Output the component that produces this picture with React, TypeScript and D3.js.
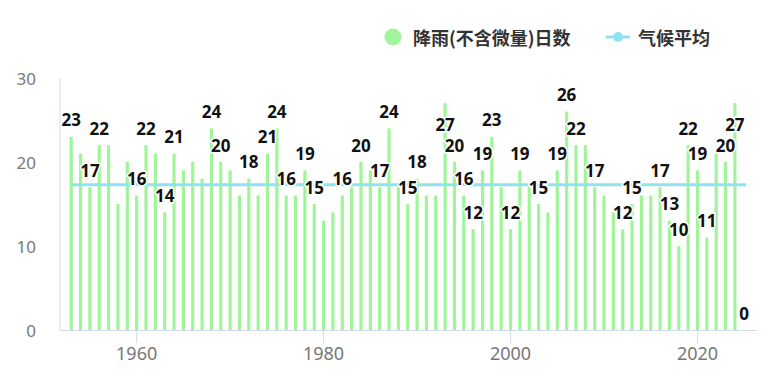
import { useEffect, useRef } from "react";
import * as d3 from "d3";

const W = 774;
const H = 387;

const years = d3.range(1953, 2026);
const rainDays = [
  23, 21, 17, 22, 22, 15, 20, 16, 22, 21, 14, 21, 19, 20, 18, 24, 20, 19, 16, 18,
  16, 21, 24, 16, 16, 19, 15, 13, 14, 16, 17, 20, 19, 17, 24, 17, 15, 18, 16, 16,
  27, 20, 16, 12, 19, 23, 17, 12, 19, 17, 15, 14, 19, 26, 22, 22, 17, 16, 14, 12,
  15, 16, 16, 17, 13, 10, 22, 19, 11, 21, 20, 27, 0,
];
// years whose value label survives the overlap hiding in the original
const labelYears = [
  1953, 1955, 1956, 1960, 1961, 1963, 1964, 1968, 1969, 1972, 1974, 1975, 1976,
  1978, 1979, 1982, 1984, 1986, 1987, 1989, 1990, 1993, 1994, 1995, 1996, 1997,
  1998, 2000, 2001, 2003, 2005, 2006, 2007, 2009, 2012, 2013, 2016, 2017, 2018,
  2019, 2020, 2021, 2023, 2024, 2025,
];
const climateMean = 17.3;
const yTicks = [0, 10, 20, 30];
const xTicks = [1960, 1980, 2000, 2020];
const legendNames = ["降雨(不含微量)日数", "气候平均"];

const BAR = "#a0f59a";
const MEAN = "#8fe3ee";
const AXIS = "#d3d9ee";

export default function App() {
  const ref = useRef<SVGSVGElement>(null);

  useEffect(() => {
    if (!ref.current) return;
    const svg = d3.select(ref.current);
    svg.selectAll("*").remove();

    const x = d3.scaleLinear().domain([1951.8, 2026.4]).range([60, 757.3]);
    const y = d3.scaleLinear().domain([0, 30]).range([330, 78]);

    // axes
    svg.append("line")
      .attr("x1", 60).attr("x2", 60).attr("y1", y(30)).attr("y2", y(0))
      .attr("stroke", AXIS).attr("stroke-width", 1);
    svg.append("line")
      .attr("x1", 60).attr("x2", x.range()[1]).attr("y1", y(0) + 0.5).attr("y2", y(0) + 0.5)
      .attr("stroke", AXIS).attr("stroke-width", 1);

    svg.append("g")
      .selectAll("line")
      .data(xTicks)
      .join("line")
      .attr("x1", (d) => x(d)).attr("x2", (d) => x(d))
      .attr("y1", y(0)).attr("y2", y(0) + 13)
      .attr("stroke", AXIS);

    svg.append("g")
      .selectAll("text")
      .data(xTicks)
      .join("text")
      .attr("x", (d) => x(d))
      .attr("y", 353)
      .attr("text-anchor", "middle")
      .attr("dominant-baseline", "central")
      .attr("fill", "#777")
      .attr("font-family", "'Noto Sans', sans-serif")
      .attr("font-size", 18)
      .text((d) => d);

    svg.append("g")
      .selectAll("text")
      .data(yTicks)
      .join("text")
      .attr("x", 36)
      .attr("y", (d) => y(d))
      .attr("text-anchor", "end")
      .attr("dominant-baseline", "central")
      .attr("fill", "#777")
      .attr("font-family", "'Noto Sans', sans-serif")
      .attr("font-size", 17)
      .text((d) => d);

    // bars
    const bw = 3.2;
    svg.append("g")
      .selectAll("rect")
      .data(years)
      .join("rect")
      .attr("x", (d) => x(d) - bw / 2)
      .attr("y", (_d, i) => y(rainDays[i]))
      .attr("width", bw)
      .attr("height", (_d, i) => y(0) - y(rainDays[i]))
      .attr("fill", BAR);

    // climate mean
    svg.append("line")
      .attr("x1", x(years[0])).attr("x2", x(years[years.length - 1]) + 2)
      .attr("y1", y(climateMean)).attr("y2", y(climateMean))
      .attr("stroke", MEAN).attr("stroke-width", 3);

    // value labels; a label that would poke above the plot drops inside the bar
    const labelY = (v: number) => {
      const above = y(v) - 17;
      return above - 9 < y(30) ? y(v) + 21 : above;
    };
    svg.append("g")
      .selectAll("text")
      .data(labelYears)
      .join("text")
      .attr("x", (d) => x(d))
      .attr("y", (d) => labelY(rainDays[years.indexOf(d)]))
      .attr("text-anchor", "middle")
      .attr("dominant-baseline", "central")
      .attr("font-family", "'Noto Sans', sans-serif")
      .attr("font-weight", "bold")
      .attr("font-size", 17)
      .attr("fill", "#111")
      .attr("stroke", "#fff")
      .attr("stroke-width", 3)
      .attr("paint-order", "stroke")
      .text((d) => rainDays[years.indexOf(d)]);

    // legend
    const lg = svg.append("g").attr("font-family", "'Noto Sans CJK SC', sans-serif")
      .attr("font-weight", "bold").attr("font-size", 18).attr("fill", "#333");
    lg.append("circle").attr("cx", 393).attr("cy", 37).attr("r", 8.5).attr("fill", BAR);
    lg.append("text").attr("x", 413).attr("y", 37).attr("dominant-baseline", "central").text(legendNames[0]);
    lg.append("line").attr("x1", 606).attr("x2", 630).attr("y1", 37).attr("y2", 37)
      .attr("stroke", MEAN).attr("stroke-width", 3);
    lg.append("circle").attr("cx", 618).attr("cy", 37).attr("r", 5).attr("fill", MEAN);
    lg.append("text").attr("x", 638).attr("y", 37).attr("dominant-baseline", "central").text(legendNames[1]);
  }, []);

  return (
    <svg
      ref={ref}
      width={W}
      height={H}
      style={{ position: "absolute", left: 0, top: 0, background: "#fff" }}
    />
  );
}
